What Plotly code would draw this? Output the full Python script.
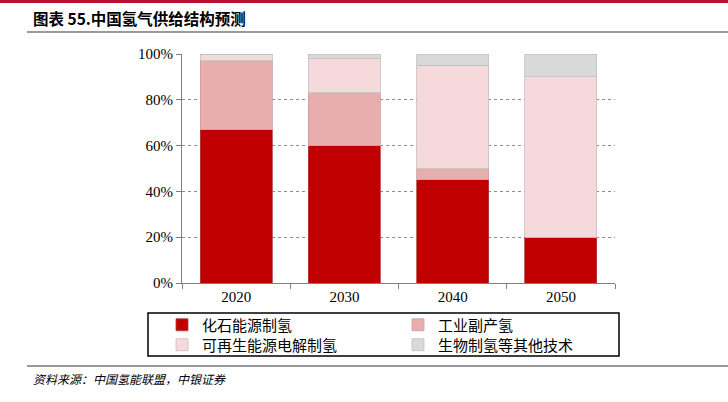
import plotly.graph_objects as go

years = ["2020", "2030", "2040", "2050"]
fossil = [67, 60, 45, 20]
industrial = [30, 23, 5, 0]
renewable = [3, 15, 45, 70]
bio_other = [0, 2, 5, 10]

names = ["化石能源制氢", "工业副产氢", "可再生能源电解制氢", "生物制氢等其他技术"]
colors = ["#C00000", "#E8AEAE", "#F6D9DA", "#D9D9D9"]
edge = ["#B04040", "#C9A0A0", "#C8BEBE", "#C0C0C0"]
legends = ["legend", "legend2", "legend3", "legend4"]

W, H = 728, 402
L, R, T, B = 182, 615, 54, 283
pw, ph = R - L, B - T

def px(x):
    return (x - L) / pw

def py(y):
    return (B - y) / ph

fig = go.Figure()
for vals, nm, c, e, lg in zip([fossil, industrial, renewable, bio_other], names, colors, edge, legends):
    fig.add_trace(go.Bar(x=years, y=vals, name=nm, marker=dict(color=c, line=dict(color=e, width=0.8)),
                         legend=lg, hoverinfo="skip"))

cjk = "Noto Sans CJK SC"
serif = "Liberation Serif"

def leg(x, yc):
    return dict(x=px(x), y=py(yc), xanchor="left", yanchor="middle", orientation="v",
                font=dict(family=cjk, size=15, color="#000"), bgcolor="rgba(0,0,0,0)",
                itemclick=False, itemdoubleclick=False)

fig.update_layout(
    width=W, height=H,
    margin=dict(l=L, r=W - R, t=T, b=H - B),
    paper_bgcolor="white", plot_bgcolor="white",
    barmode="stack", bargap=0.333,
    showlegend=True,
    legend=leg(162, 325),
    legend2=leg(398, 325),
    legend3=leg(162, 345),
    legend4=leg(398, 345),
    xaxis=dict(showline=True, linecolor="#7f7f7f", linewidth=1, ticks="outside", tickson="boundaries",
               ticklen=5, tickcolor="#7f7f7f", tickfont=dict(family=serif, size=15, color="#000"),
               showgrid=False),
    yaxis=dict(range=[0, 100], dtick=20, ticksuffix="%", showline=True, linecolor="#7f7f7f", linewidth=1,
               ticks="outside", ticklen=5, tickcolor="#7f7f7f",
               tickfont=dict(family=serif, size=15, color="#000"),
               showgrid=True, gridcolor="#8c8c8c", griddash="dot", gridwidth=1, zeroline=False),
    shapes=[
        dict(type="rect", xref="paper", yref="paper", x0=px(0), x1=px(W), y0=py(0), y1=py(3),
             fillcolor="#B8102E", line=dict(width=0), layer="above"),
        dict(type="line", xref="paper", yref="paper", x0=px(27), x1=px(W), y0=py(32), y1=py(32),
             line=dict(color="#999999", width=2)),
        dict(type="rect", xref="paper", yref="paper", x0=px(148), x1=px(619), y0=py(313), y1=py(356),
             line=dict(color="#000000", width=1.5), fillcolor="rgba(0,0,0,0)"),
        dict(type="line", xref="paper", yref="paper", x0=px(27), x1=px(W), y0=py(366), y1=py(366),
             line=dict(color="#777777", width=1.5)),
    ],
    annotations=[
        dict(text="<b>图表 55.中国氢气供给结构预测</b>", xref="paper", yref="paper", x=px(31), y=py(18),
             xanchor="left", yanchor="middle", showarrow=False,
             font=dict(family=cjk, size=15.5, color="#000")),
        dict(text="<i>资料来源：中国氢能联盟，中银证券</i>", xref="paper", yref="paper", x=px(31), y=py(378),
             xanchor="left", yanchor="middle", showarrow=False,
             font=dict(family=cjk, size=12, color="#000")),
    ],
)

fig.write_html("out.html", config={"displayModeBar": False},
               post_script="document.body.style.margin='0px';")
